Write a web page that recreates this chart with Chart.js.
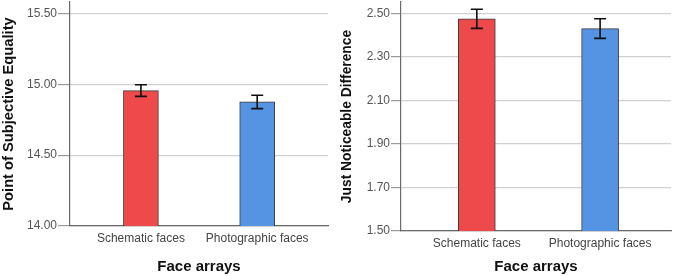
<!DOCTYPE html>
<html>
<head>
<meta charset="utf-8">
<script src="https://cdn.jsdelivr.net/npm/chart.js@4.4.1/dist/chart.umd.min.js"></script>
<style>
  html, body { margin: 0; padding: 0; background: #ffffff; }
  body { width: 677px; height: 276px; position: relative; overflow: hidden; }
  .panel { position: absolute; top: 0; height: 276px; }
  #p1 { left: 0; width: 337px; }
  #p2 { left: 337px; width: 340px; }
</style>
</head>
<body>
<div class="panel" id="p1"><canvas id="c1"></canvas></div>
<div class="panel" id="p2"><canvas id="c2"></canvas></div>
<script>
const categories = ['Schematic faces', 'Photographic faces'];
const barColors = ['#ee4a4c', '#5594e2'];

const pseMeans = [14.955, 14.875];
const pseErrors = [0.041, 0.047];
const pseTicks = [14.00, 14.50, 15.00, 15.50];

const jndMeans = [2.475, 2.430];
const jndErrors = [0.044, 0.045];
const jndTicks = [1.50, 1.70, 1.90, 2.10, 2.30, 2.50];

const FONT = "'Liberation Sans', Arial, sans-serif";

const errorBarPlugin = {
  id: 'errorBars',
  afterDatasetsDraw(chart, args, opts) {
    const ctx = chart.ctx;
    const y = chart.scales.y;
    const meta = chart.getDatasetMeta(0);
    const means = opts.means, errs = opts.errors;
    ctx.save();
    ctx.strokeStyle = '#111111';
    ctx.lineWidth = 1.6;
    meta.data.forEach((bar, i) => {
      const x = bar.x;
      const yt = y.getPixelForValue(means[i] + errs[i]);
      const yb = y.getPixelForValue(means[i] - errs[i]);
      const hw = 6;
      ctx.beginPath();
      ctx.moveTo(x, yt); ctx.lineTo(x, yb);
      ctx.moveTo(x - hw, yt); ctx.lineTo(x + hw, yt);
      ctx.moveTo(x - hw, yb); ctx.lineTo(x + hw, yb);
      ctx.stroke();
    });
    ctx.restore();
  }
};

function makeChart(id, cfg) {
  return new Chart(document.getElementById(id), {
    type: 'bar',
    data: {
      datasets: [{
        data: cfg.means.map((v, i) => ({ x: i, y: v })),
        backgroundColor: barColors,
        borderColor: '#3c3c3c',
        borderWidth: 1,
        barThickness: cfg.barWidth
      }]
    },
    options: {
      responsive: true,
      maintainAspectRatio: false,
      devicePixelRatio: 1,
      animation: false,
      layout: { padding: { top: 2, right: cfg.rightPad, left: 0, bottom: 0 } },
      plugins: {
        legend: { display: false },
        tooltip: { enabled: false },
        errorBars: { means: cfg.means, errors: cfg.errors }
      },
      scales: {
        x: {
          type: 'linear',
          min: cfg.xMin,
          max: cfg.xMax,
          offset: false,
          afterBuildTicks: s => { s.ticks = categories.map((c, i) => ({ value: i })); },
          afterFit: s => { s.height = cfg.xHeight; s.paddingLeft = 0; s.paddingRight = 0; },
          ticks: {
            callback: v => categories[v],
            font: { family: FONT, size: 12 },
            color: '#444444',
            padding: 5,
            maxRotation: 0,
            autoSkip: false
          },
          grid: { display: false, drawTicks: false, offset: false },
          border: { display: true, color: '#6a6a6a', width: 1.2 },
          title: {
            display: true,
            text: 'Face arrays',
            font: { family: FONT, size: 15, weight: 'bold' },
            color: '#111111',
            padding: { top: 0, bottom: 0 }
          }
        },
        y: {
          min: cfg.yMin,
          max: cfg.yMax,
          afterBuildTicks: s => { s.ticks = cfg.ticks.map(v => ({ value: v })); },
          afterFit: s => { s.width = cfg.yWidth; s.paddingTop = 0; s.paddingBottom = 0; },
          ticks: {
            callback: v => Number(v).toFixed(2),
            font: { family: FONT, size: 12 },
            color: '#555555',
            padding: 1
          },
          grid: { color: '#d0d0d0', lineWidth: 1.2, tickLength: cfg.tickLen, tickColor: '#9a9a9a' },
          border: { display: true, color: '#6a6a6a', width: 1.2 },
          title: {
            display: true,
            text: cfg.yTitle,
            font: { family: FONT, size: cfg.yTitleSize, weight: 'bold' },
            color: '#111111',
            padding: { top: cfg.yTitlePad, bottom: cfg.yTitlePad }
          }
        }
      }
    },
    plugins: [errorBarPlugin]
  });
}

makeChart('c1', {
  means: pseMeans, errors: pseErrors, ticks: pseTicks,
  yMin: 14.0, yMax: 15.58, xMin: -0.61, xMax: 1.609,
  barWidth: 35, rightPad: 9, xHeight: 50, yWidth: 70, tickLen: 12,
  yTitle: 'Point of Subjective Equality', yTitleSize: 14.7, yTitlePad: 0
});

makeChart('c2', {
  means: jndMeans, errors: jndErrors, ticks: jndTicks,
  yMin: 1.5, yMax: 2.552, xMin: -0.615, xMax: 1.575,
  barWidth: 37, rightPad: 6, xHeight: 45, yWidth: 64, tickLen: 10,
  yTitle: 'Just Noticeable Difference', yTitleSize: 13.8, yTitlePad: 2
});
</script>
</body>
</html>
